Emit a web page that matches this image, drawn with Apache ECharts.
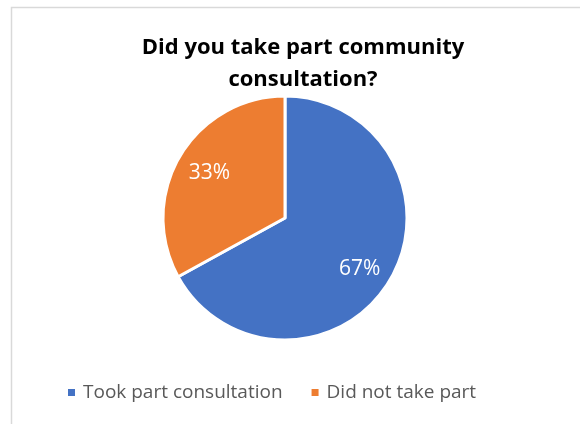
<!DOCTYPE html>
<html><head><meta charset="utf-8">
<script src="https://cdn.jsdelivr.net/npm/echarts@6/dist/echarts.min.js"></script>
<style>html,body{margin:0;padding:0;background:#fff}#c{width:580px;height:424px}</style>
</head><body><div id="c"></div>
<script>
const titleText = "Did you take part community\nconsultation?";
const categories = ["Took part consultation", "Did not take part"];
const values = [67, 33];
const colors = ["#4472C4", "#ED7D31"];

const chart = echarts.init(document.getElementById('c'), null, {renderer:'canvas'});
const data = categories.map((n,i)=>({name:n, value:values[i], itemStyle:{color:colors[i]}}));
const labelOffsets = [[-2,6],[1,0]];
chart.setOption({
  animation:false,
  backgroundColor:'#fff',
  graphic:[{type:'rect', shape:{x:11.5,y:7.5,width:600,height:500}, style:{fill:'none',stroke:'#d9d9d9',lineWidth:1.5}, silent:true}],
  title:{text:titleText, left:298, textAlign:'center', top:27,
    textStyle:{fontFamily:'Open Sans', fontWeight:'bold', fontSize:22, lineHeight:32, color:'#000'}},
  legend:{data:categories, left:61, top:378, icon:'rect', itemWidth:9, itemHeight:9, itemGap:27,
    textStyle:{fontFamily:'Open Sans', fontSize:19, color:'#595959', padding:[0,0,0,2]}},
  series:[
    {type:'pie', center:[285,218], radius:[0,122], startAngle:90, clockwise:true,
     data:data, label:{show:false}, labelLine:{show:false},
     itemStyle:{borderColor:'#fff', borderWidth:3}, silent:true},
    {type:'pie', center:[285,218], radius:[50,122], startAngle:90, clockwise:true,
     data:data.map((d,i)=>({name:d.name, value:d.value, itemStyle:{color:'rgba(0,0,0,0)'}, label:{offset:labelOffsets[i]}})),
     label:{show:true, position:'inside', formatter:'{d}%', color:'#fff', fontFamily:'Open Sans', fontSize:21},
     labelLine:{show:false}, itemStyle:{borderWidth:0}, silent:true, z:3}
  ]
});
</script></body></html>
